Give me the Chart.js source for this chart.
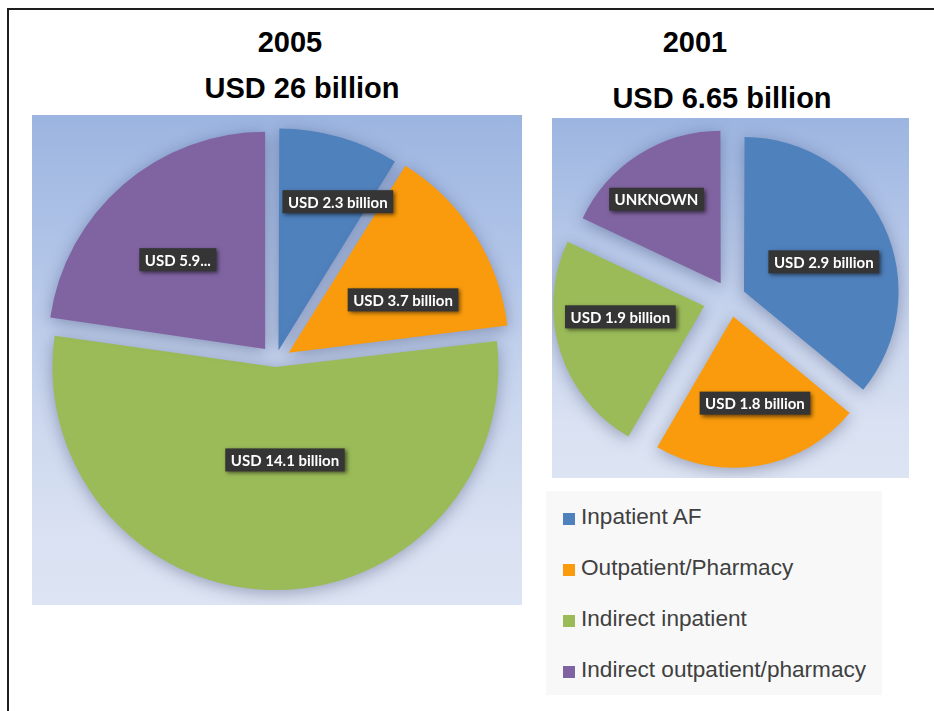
<!DOCTYPE html>
<html>
<head>
<meta charset="utf-8">
<title>AF costs 2005 / 2001</title>
<script src="https://cdn.jsdelivr.net/npm/chart.js@4.4.0/dist/chart.umd.min.js"></script>
<style>
  body { margin: 0; background: #fff; font-family: "Liberation Sans", Arial, sans-serif; }
  #page { position: relative; width: 934px; height: 711px; overflow: hidden; }
  #frame { position: absolute; left: 7px; top: 8px; width: 960px; height: 740px;
           border-top: 2px solid #1e1e1e; border-left: 2px solid #1e1e1e; }
  .title { position: absolute; width: 400px; margin-left: -200px; text-align: center;
           font-weight: bold; font-size: 29px; line-height: 29px; color: #000; }
  .panel { position: absolute;
           background: linear-gradient(to bottom, #9cb5e0 0%, #b2c5e8 30%, #cbd7ee 60%, #d9e1f2 85%, #dde4f3 100%); }
  .panel canvas { display: block; }
  #legend { position: absolute; left: 546px; top: 491px; width: 336px; height: 204px; background: #f8f8f8; }
  .item { height: 51px; line-height: 51px; font-size: 22.6px; color: #404040; white-space: nowrap; }
  .item span.box { display: inline-block; width: 12px; height: 12px; margin: 0 6px 0 17px; vertical-align: -1px; }
</style>
</head>
<body>
<div id="page">
  <div id="frame"></div>
  <div class="title" style="left:290px; top:28px;">2005</div>
  <div class="title" style="left:302px; top:74px;">USD 26 billion</div>
  <div class="title" style="left:695px; top:28px;">2001</div>
  <div class="title" style="left:722px; top:84px;">USD 6.65 billion</div>

  <div class="panel" style="left:32px; top:115px; width:490px; height:490px;">
    <canvas id="pie2005" width="490" height="490"></canvas>
  </div>
  <div class="panel" style="left:552px; top:118px; width:357px; height:360px;">
    <canvas id="pie2001" width="357" height="360"></canvas>
  </div>
  <div id="legend"></div>
</div>

<script>
const categories = ['Inpatient AF', 'Outpatient/Pharmacy', 'Indirect inpatient', 'Indirect outpatient/pharmacy'];

// 2005: USD 26 billion in total
const costs2005 = [2.3, 3.7, 14.1, 5.9];
const labels2005 = ['USD 2.3 billion', 'USD 3.7 billion', 'USD 14.1 billion', 'USD 5.9...'];

const costs2001 = [2.9, 1.8, 1.9, 1.45];
const labels2001 = ['USD 2.9 billion', 'USD 1.8 billion', 'USD 1.9 billion', 'UNKNOWN'];

const sliceColors = ['#4f81bd', '#f99b0c', '#9bbb59', '#8064a2'];

// how far each slice is pulled out, px
const explode2005 = [16, 19, 12, 16];
const explode2001 = [19, 19, 27, 19];

// where each label box sits: share of the radius from the slice tip, and a small turn in degrees
const place2005 = [[0.715, 6], [0.565, 8], [0.403, -7], [0.575, -3.5]];
const place2001 = [[0.54, 5], [0.59, -4], [0.56, 10], [0.69, -5]];

// chart.js pushes an arc out by offset/4 * (2 - sin(sweep)), so work back from the gap we want
function explode(ctx, gaps) {
  const vals = ctx.dataset.data;
  const total = vals.reduce((a, b) => a + b, 0);
  const sweep = vals[ctx.dataIndex] / total * 2 * Math.PI;
  return 4 * gaps[ctx.dataIndex] / (2 - Math.sin(Math.min(Math.PI, sweep)));
}

const sliceShadow = {
  id: 'sliceShadow',
  beforeDatasetsDraw(chart) {
    const ctx = chart.ctx;
    ctx.save();
    ctx.shadowColor = 'rgba(25, 35, 80, 0.35)';
    ctx.shadowBlur = 16;
    ctx.shadowOffsetY = 3;
  },
  afterDatasetsDraw(chart) {
    chart.ctx.restore();
  }
};

const sliceLabels = {
  id: 'sliceLabels',
  afterDatasetsDraw(chart, args, opts) {
    const ctx = chart.ctx;
    ctx.save();
    ctx.font = 'bold 15px Lato, "Open Sans", sans-serif';
    ctx.textAlign = 'center';
    ctx.textBaseline = 'middle';
    chart.getDatasetMeta(0).data.forEach((arc, i) => {
      const text = opts.texts[i];
      const [frac, turn] = opts.place[i];
      const mid = (arc.startAngle + arc.endAngle) / 2;
      const tipX = arc.x + Math.cos(mid) * opts.gaps[i];
      const tipY = arc.y + Math.sin(mid) * opts.gaps[i];
      const a = mid + turn * Math.PI / 180;
      const x = tipX + Math.cos(a) * frac * opts.radius;
      const y = tipY + Math.sin(a) * frac * opts.radius;
      const w = ctx.measureText(text).width + 11;
      const h = 23;
      ctx.shadowColor = 'rgba(0, 0, 0, 0.55)';
      ctx.shadowBlur = 4;
      ctx.shadowOffsetX = 2;
      ctx.shadowOffsetY = 2;
      ctx.fillStyle = '#353535';
      ctx.fillRect(x - w / 2, y - h / 2, w, h);
      ctx.shadowColor = 'transparent';
      ctx.fillStyle = '#ffffff';
      ctx.fillText(text, x, y + 1);
    });
    ctx.restore();
  }
};

function makePie(id, values, texts, place, gaps, radius, padding) {
  return new Chart(document.getElementById(id), {
    type: 'pie',
    data: {
      labels: categories,
      datasets: [{
        data: values,
        backgroundColor: sliceColors,
        borderWidth: 0,
        radius: radius,
        offset: ctx => explode(ctx, gaps),
        hoverOffset: 0
      }]
    },
    options: {
      responsive: false,
      animation: false,
      events: [],
      layout: { padding: padding },
      plugins: {
        legend: { display: false },
        tooltip: { enabled: false },
        sliceLabels: { texts: texts, place: place, radius: radius, gaps: gaps }
      }
    },
    plugins: [sliceShadow, sliceLabels]
  });
}

makePie('pie2005', costs2005, labels2005, place2005, explode2005, 217, { left: 0, right: 3, top: 2, bottom: 0 });
makePie('pie2001', costs2001, labels2001, place2001, explode2001, 151, { left: 0, right: 1, top: 0, bottom: 0 });

// legend, one row per category
const legend = document.getElementById('legend');
categories.forEach((name, i) => {
  const row = document.createElement('div');
  row.className = 'item';
  const box = document.createElement('span');
  box.className = 'box';
  box.style.background = sliceColors[i];
  row.appendChild(box);
  row.appendChild(document.createTextNode(name));
  legend.appendChild(row);
});
</script>
</body>
</html>
